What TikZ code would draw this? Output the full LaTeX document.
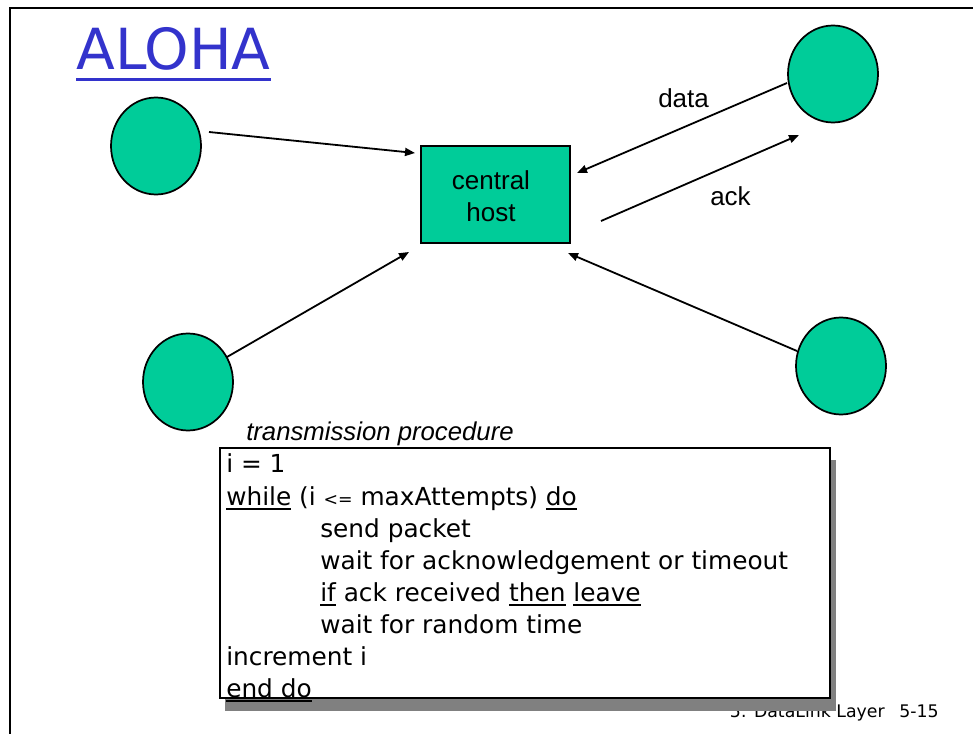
\documentclass[tikz,border=0pt]{standalone}
\usepackage{fontspec}
\setmainfont{DejaVu Sans}
\newfontfamily\arialfont{Liberation Sans}
\usetikzlibrary{shapes.geometric,arrows.meta}
\definecolor{stationgreen}{RGB}{0,204,153}
\definecolor{titleblue}{RGB}{51,51,204}
\definecolor{shadowgray}{RGB}{128,128,128}
% underlined keyword of the pseudo code
\newcommand\kw[1]{\vtop{\hbox{#1}\kern2.2pt\hrule height 1.3pt}}
\begin{document}
\begin{tikzpicture}[x=0.75pt,y=-0.75pt,
  station/.style={ellipse, draw, line width=1.3pt, fill=stationgreen,
    minimum width=67.5pt, minimum height=72.75pt, inner sep=0pt},
  hostbox/.style={rectangle, draw, line width=1.3pt, fill=stationgreen,
    minimum width=111.75pt, minimum height=72.75pt, inner sep=0pt},
  link/.style={line width=1.35pt, -{Triangle[length=7.5pt,width=6pt]}},
  lbl/.style={font=\arialfont\fontsize{19.5}{24}\selectfont, inner sep=0pt},
  codeline/.style={font=\fontsize{18.6}{24}\selectfont, inner sep=0pt, anchor=base west},
]
\useasboundingbox (0,0) rectangle (973,734);

% slide frame
\draw[line width=1.5pt] (10,734) -- (10,8) -- (973,8);

% title
\node[anchor=base west, inner sep=0pt, text=titleblue,
  font=\fontsize{42.5}{50}\selectfont] (title) at (76,70) {ALOHA};
\draw[titleblue, line width=2.6pt] ([yshift=-7pt]title.base west) -- ([yshift=-7pt]title.base east);

% stations and central host
\node[station] (s1) at (156,146) {};
\node[station] (s2) at (833,74) {};
\node[station] (s3) at (188,382) {};
\node[station] (s4) at (841,366) {};
\node[hostbox] (host) at (495.5,194.5) {};
\node[lbl, anchor=base] (hostA) at (491,190) {central};
\node[lbl, anchor=base] (hostB) at (491,222) {host};

% connector end points
\coordinate (s1out) at (209,132);  \coordinate (h1in) at (415,153);
\coordinate (s2out) at (787,83);   \coordinate (h2in) at (577,173);
\coordinate (h2out) at (601,221);  \coordinate (s2in) at (799,135);
\coordinate (s3out) at (227,357);  \coordinate (h3in) at (409,252);
\coordinate (s4out) at (797,351);  \coordinate (h4in) at (568,253);

\draw[link] (s1out) -- (h1in);
\draw[link] (s2out) -- (h2in);
\draw[link] (h2out) -- (s2in);
\draw[link] (s3out) -- (h3in);
\draw[link] (s4out) -- (h4in);

\node[lbl, anchor=base west] (datalbl) at (658,108) {data};
\node[lbl, anchor=base west] (acklbl) at (710,205) {ack};

% footer (partly covered by the code box)
\node[anchor=base east, inner sep=0pt, font=\fontsize{13}{15}\selectfont] (foot) at (885,717) {5: DataLink Layer};
\node[anchor=base west, inner sep=0pt, font=\fontsize{13}{15}\selectfont] (page) at (899,717) {5-15};

% transmission procedure box
\node[lbl, anchor=base west, font=\arialfont\itshape\fontsize{19.3}{24}\selectfont] (proc) at (246,440) {transmission procedure};
\fill[shadowgray] (225,460) rectangle (836,711);
\draw[line width=1.2pt, fill=white] (220,448) rectangle (830,698);

\node[codeline] (l1) at (226,472) {i = 1};
\node[codeline] (l2) at (226,505) {\kw{while} (i {\fontsize{13}{15}\selectfont<=} maxAttempts) \kw{do}};
\node[codeline] (l3) at (320,537) {send packet};
\node[codeline] (l4) at (320,569) {wait for acknowledgement or timeout};
\node[codeline] (l5) at (320,601) {\kw{if} ack received \kw{then} \kw{leave}};
\node[codeline] (l6) at (320,633) {wait for random time};
\node[codeline] (l7) at (226,665) {increment i};
\node[codeline] (l8) at (226,697) {\kw{end do}};
\end{tikzpicture}
\end{document}
